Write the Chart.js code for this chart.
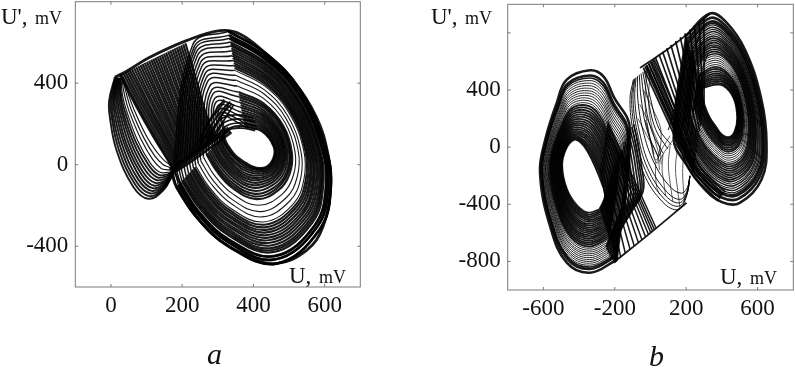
<!DOCTYPE html>
<html>
<head>
<meta charset="utf-8">
<script src="https://cdn.jsdelivr.net/npm/chart.js@4"></script>
<style>
html, body { margin: 0; padding: 0; background: #fff; overflow: hidden; }
canvas { position: absolute; top: 0; filter: blur(0.4px); }
#chartA { left: 0; }
#chartB { left: 400px; }
</style>
</head>
<body>
<canvas id="chartA" width="380" height="374"></canvas>
<canvas id="chartB" width="395" height="374"></canvas>
<script>
// values, each row is one orbit: x,y, x,y, ... in mV
const xTicksA = [0, 200, 400, 600];
const yTicksA = [-400, 0, 400];
const xTicksB = [-600, -200, 200, 600];
const yTicksB = [-800, -400, 0, 400, 800];

const ringA = [
  [320,164, 312,241, 374,189, 425,162, 457,89, 456,32, 436,-11, 406,-14, 378,10, 349,46, 327,99, 316,142],
  [315,157, 309,255, 372,209, 426,178, 460,100, 462,35, 443,-15, 413,-27, 381,-11, 349,28, 324,84, 310,132],
  [307,147, 305,273, 370,233, 426,197, 464,115, 470,38, 452,-20, 422,-43, 386,-36, 348,5, 319,66, 304,119],
  [300,138, 301,291, 367,257, 427,217, 468,129, 477,42, 462,-25, 431,-59, 390,-62, 347,-18, 315,48, 297,106],
  [292,128, 296,309, 365,281, 427,237, 472,144, 485,45, 471,-30, 441,-74, 395,-87, 346,-41, 310,29, 290,93],
  [285,119, 292,327, 363,305, 428,256, 475,158, 492,49, 480,-36, 450,-90, 399,-113, 345,-64, 306,11, 283,80],
  [275,107, 287,349, 360,333, 429,280, 480,176, 501,53, 492,-42, 461,-109, 404,-143, 343,-92, 300,-11, 275,65],
  [268,98, 283,367, 358,357, 429,300, 484,190, 508,57, 501,-47, 470,-125, 409,-169, 342,-115, 296,-29, 268,52],
  [259,86, 278,388, 355,386, 430,323, 488,208, 517,61, 512,-53, 481,-144, 414,-199, 341,-142, 290,-51, 260,36],
  [250,75, 272,410, 352,415, 430,347, 492,225, 526,65, 523,-59, 492,-162, 419,-230, 340,-170, 285,-73, 252,20],
  [242,65, 268,428, 350,439, 431,367, 496,240, 533,68, 533,-64, 502,-178, 424,-256, 339,-193, 280,-91, 245,8],
  [235,56, 264,446, 348,463, 432,386, 500,254, 541,72, 542,-69, 511,-194, 428,-281, 338,-216, 276,-110, 238,-5],
  [227,46, 260,464, 346,487, 432,406, 504,269, 548,76, 552,-74, 520,-210, 433,-307, 337,-239, 271,-128, 232,-18],
  [220,37, 255,482, 344,511, 433,426, 507,283, 556,79, 561,-79, 530,-226, 437,-332, 336,-262, 267,-146, 225,-31],
  [212,27, 251,500, 341,535, 433,446, 511,298, 563,83, 570,-85, 539,-241, 442,-358, 335,-285, 262,-165, 218,-44],
  [205,18, 247,518, 339,559, 434,465, 515,312, 570,86, 580,-90, 548,-257, 446,-383, 334,-308, 258,-183, 211,-57],
  [197,8, 243,536, 337,583, 434,485, 519,327, 578,90, 589,-95, 557,-273, 451,-409, 333,-331, 254,-201, 204,-70],
  [191,1, 239,550, 335,602, 435,501, 522,338, 584,92, 596,-99, 565,-285, 454,-429, 332,-349, 250,-216, 199,-81],
  [185,-7, 236,565, 333,621, 435,516, 525,350, 590,95, 604,-103, 572,-298, 458,-449, 331,-368, 246,-230, 194,-91],
  [181,-12, 233,576, 332,636, 436,528, 527,358, 594,97, 610,-106, 578,-307, 460,-465, 331,-382, 244,-241, 189,-99],
  [175,-20, 230,590, 330,655, 436,544, 530,370, 600,100, 617,-110, 585,-320, 464,-485, 330,-400, 240,-256, 184,-109]
];
const ringA2 = [
  [317,160, 310,248, 373,199, 425,170, 458,94, 459,33, 439,-13, 409,-20, 379,0, 349,37, 325,91, 313,137],
  [311,152, 307,264, 371,221, 426,187, 462,107, 466,36, 447,-17, 417,-35, 383,-23, 348,16, 321,75, 307,125],
  [303,142, 303,282, 368,245, 426,207, 466,122, 473,40, 457,-22, 426,-51, 388,-49, 347,-6, 317,57, 300,112],
  [296,133, 298,300, 366,269, 427,227, 470,136, 481,43, 466,-27, 436,-66, 392,-74, 346,-29, 312,38, 293,99],
  [288,123, 294,318, 364,293, 427,246, 473,151, 488,47, 475,-33, 445,-82, 397,-100, 345,-52, 308,20, 286,86],
  [280,113, 289,338, 361,319, 428,268, 477,167, 496,51, 486,-39, 455,-99, 401,-128, 344,-78, 303,0, 279,72],
  [271,102, 285,358, 359,345, 429,290, 482,183, 504,55, 496,-44, 465,-117, 406,-156, 342,-103, 298,-20, 271,58],
  [231,51, 262,455, 347,475, 432,396, 502,262, 545,74, 547,-72, 516,-202, 431,-294, 338,-228, 274,-119, 235,-12],
  [224,42, 258,473, 345,499, 433,416, 506,276, 552,78, 557,-77, 525,-218, 435,-320, 336,-251, 269,-137, 228,-25],
  [216,32, 253,491, 342,523, 433,436, 509,291, 560,81, 566,-82, 535,-234, 440,-345, 335,-274, 264,-156, 221,-38],
  [208,22, 249,509, 340,547, 434,456, 513,305, 567,85, 575,-88, 544,-249, 444,-370, 334,-297, 260,-174, 214,-50],
  [201,13, 245,527, 338,571, 434,475, 517,320, 574,88, 585,-92, 553,-265, 449,-396, 333,-320, 256,-192, 208,-63],
  [194,4, 241,543, 336,592, 435,493, 520,332, 581,91, 592,-97, 561,-279, 452,-419, 332,-340, 252,-208, 201,-75]
];
const capA = [
  [300,100, 325,170, 360,190, 410,175],
  [290,110, 320,185, 360,205, 410,190],
  [310,120, 330,170, 365,180, 405,168],
  [280,120, 312,200, 355,225, 405,210],
  [270,130, 305,220, 350,245, 400,230]
];
const sheetA = [
  [59,469, 103,312, 150,156, 197,2],
  [65,474, 109,316, 155,160, 201,7],
  [71,479, 114,320, 160,163, 205,12],
  [77,484, 120,324, 165,166, 209,17],
  [83,489, 125,328, 170,170, 213,22],
  [89,494, 131,331, 174,173, 217,26],
  [95,500, 136,335, 179,176, 220,31],
  [101,505, 142,339, 184,180, 224,36],
  [107,510, 147,342, 188,183, 228,40],
  [113,515, 153,346, 193,186, 232,45],
  [119,520, 158,350, 197,190, 236,50],
  [125,525, 164,354, 202,193, 240,55],
  [131,530, 169,357, 207,196, 244,60],
  [137,535, 175,361, 212,200, 248,65],
  [143,540, 180,365, 216,203, 252,70],
  [149,545, 186,369, 221,206, 256,74],
  [155,550, 191,372, 226,210, 259,79],
  [161,556, 197,376, 231,213, 263,84],
  [167,561, 202,380, 235,216, 267,88],
  [173,566, 208,384, 240,220, 271,93],
  [179,571, 213,387, 245,223, 275,98],
  [185,576, 219,391, 250,226, 279,103],
  [191,581, 224,395, 254,230, 283,108],
  [197,586, 230,399, 259,233, 287,113],
  [203,591, 235,402, 264,236, 291,117],
  [209,596, 241,406, 269,239, 295,122]
];
const fanA = [
  [215,30, 250,130, 280,220, 320,310],
  [240,60, 265,140, 295,230, 330,305],
  [265,95, 285,160, 310,240, 340,300],
  [290,130, 305,180, 325,240, 345,295],
  [250,90, 262,170, 290,255, 318,320],
  [275,115, 290,180, 315,255, 335,310]
];
const diagA = [
  [25,440, 70,290, 120,135, 175,-25, 240,-256],
  [29,443, 74,293, 124,138, 178,-22],
  [35,449, 80,297, 130,142, 182,-17],
  [41,454, 86,301, 136,146, 185,-12],
  [47,459, 92,305, 141,150, 189,-7],
  [53,464, 98,309, 146,153, 193,-3]
];
const lobeA = [
  [11,429, -5,315, -3,233, 16,70, 63,-109, 105,-167, 147,-126, 175,-44],
  [13,429, -1,317, 2,236, 22,75, 68,-97, 108,-154, 148,-117, 175,-43],
  [14,428, 3,319, 6,238, 28,80, 72,-85, 111,-141, 150,-108, 175,-41],
  [16,428, 7,320, 11,241, 34,85, 77,-73, 114,-128, 151,-100, 175,-40],
  [18,428, 10,322, 16,244, 40,90, 82,-62, 117,-115, 152,-91, 175,-39],
  [19,428, 14,324, 21,246, 45,95, 87,-50, 120,-102, 153,-82, 175,-37],
  [21,427, 18,326, 26,249, 51,100, 91,-38, 124,-89, 156,-73, 175,-36],
  [23,427, 22,328, 31,251, 57,105, 96,-26, 127,-75, 157,-64, 175,-35],
  [25,427, 26,331, 35,254, 63,110, 101,-14, 130,-62, 158,-55, 175,-33],
  [26,426, 29,333, 40,257, 69,115, 106,-2, 133,-49, 159,-47, 175,-32],
  [28,426, 33,335, 45,259, 75,119, 110,9, 136,-36, 160,-38, 175,-31],
  [30,426, 39,335, 51,263, 84,126, 117,26, 141,-18, 162,-25, 175,-29],
  [33,425, 45,338, 58,266, 92,133, 123,43, 146,1, 164,-13, 175,-27],
  [35,425, 50,340, 65,270, 100,140, 130,60, 150,20, 165,0, 175,-25]
];
const edgeA = [
  [11,429, 44,459, 109,527, 212,609, 306,658, 362,642, 436,544, 511,413, 577,233, 609,54, 617,-109, 595,-305, 549,-420, 464,-485, 390,-452, 306,-371, 240,-256, 184,-109, 170,-40],
  [175,-30, 215,20, 255,70, 295,125, 334,170],
  [165,-25, 210,30, 250,80, 290,135, 330,180],
  [180,-35, 220,10, 260,60, 300,110, 338,160]
];

const rightB = [
  [292,411, 349,435, 410,429, 467,340, 486,204, 471,108, 442,71, 403,85, 366,144, 329,214, 302,297, 290,361],
  [287,430, 349,461, 411,452, 470,358, 493,211, 480,104, 451,56, 408,61, 368,116, 328,188, 297,276, 282,345],
  [283,449, 348,487, 411,475, 473,376, 500,218, 489,100, 460,40, 413,36, 370,89, 326,162, 291,254, 274,330],
  [278,468, 347,513, 412,499, 477,393, 507,225, 498,96, 469,25, 418,12, 371,62, 325,136, 286,233, 265,314],
  [272,491, 346,544, 412,527, 481,414, 515,234, 509,91, 481,7, 424,-18, 373,29, 323,105, 280,207, 255,296],
  [267,514, 345,575, 413,555, 485,435, 523,242, 521,86, 492,-12, 430,-47, 376,-4, 321,74, 274,181, 246,277],
  [261,537, 344,605, 414,582, 488,456, 532,250, 532,81, 503,-30, 436,-76, 378,-36, 319,43, 267,155, 236,258],
  [255,560, 343,636, 414,610, 492,477, 540,259, 543,76, 514,-49, 442,-106, 380,-69, 317,12, 261,129, 226,240],
  [249,582, 342,667, 415,638, 496,498, 548,267, 554,72, 525,-67, 448,-135, 382,-102, 316,-20, 255,104, 216,221],
  [244,605, 341,698, 415,666, 500,519, 556,276, 565,67, 536,-85, 454,-165, 384,-134, 314,-51, 248,78, 206,203],
  [238,628, 340,729, 416,694, 504,540, 565,284, 576,62, 548,-104, 460,-194, 386,-167, 312,-82, 242,52, 196,184],
  [232,651, 339,760, 417,722, 508,561, 573,292, 587,57, 559,-122, 466,-223, 388,-200, 310,-113, 236,26, 186,165],
  [227,674, 338,791, 417,750, 512,582, 581,301, 598,52, 570,-140, 472,-253, 390,-232, 308,-144, 229,0, 176,147],
  [221,696, 337,822, 418,778, 516,603, 590,309, 609,48, 581,-159, 478,-282, 392,-265, 307,-176, 223,-25, 166,128],
  [215,719, 336,853, 418,806, 520,624, 598,318, 620,43, 592,-177, 484,-312, 394,-298, 305,-207, 217,-51, 156,110],
  [210,738, 335,878, 419,829, 523,642, 605,325, 630,39, 602,-192, 489,-336, 396,-325, 303,-233, 212,-73, 148,94],
  [206,757, 334,904, 419,852, 526,659, 612,332, 639,35, 611,-208, 494,-361, 398,-352, 302,-259, 206,-94, 140,79],
  [200,780, 333,935, 420,880, 530,680, 620,340, 650,30, 622,-226, 500,-390, 400,-385, 300,-290, 200,-120, 130,60]
];
const rightB2 = [
  [290,420, 349,448, 410,440, 468,349, 489,207, 475,106, 446,63, 405,73, 367,130, 328,201, 299,286, 286,353],
  [285,440, 348,474, 411,463, 472,367, 496,215, 484,102, 455,48, 410,48, 369,102, 327,175, 294,265, 278,337],
  [280,458, 348,500, 411,487, 475,384, 503,221, 493,98, 464,32, 415,24, 370,75, 325,149, 289,243, 270,322],
  [275,480, 346,528, 412,513, 479,403, 511,229, 503,93, 475,16, 421,-3, 372,45, 324,120, 283,220, 260,305],
  [269,502, 345,559, 412,541, 483,424, 519,238, 515,88, 486,-2, 427,-32, 374,12, 322,89, 277,194, 250,286],
  [264,525, 344,590, 414,568, 486,445, 527,246, 526,83, 497,-21, 433,-61, 377,-20, 320,58, 270,168, 241,267],
  [258,548, 343,620, 414,596, 490,466, 536,254, 537,78, 508,-40, 439,-91, 379,-52, 318,27, 264,142, 231,249],
  [252,571, 342,651, 415,624, 494,487, 544,263, 548,74, 519,-58, 445,-120, 381,-85, 316,-4, 258,116, 221,230],
  [246,593, 341,682, 415,652, 498,508, 552,271, 559,69, 530,-76, 451,-150, 383,-118, 315,-35, 251,91, 211,212],
  [241,616, 340,713, 416,680, 502,529, 560,280, 570,64, 542,-94, 457,-179, 385,-150, 313,-66, 245,65, 201,193],
  [235,639, 339,744, 416,708, 506,550, 569,288, 581,59, 553,-113, 463,-208, 387,-183, 311,-97, 239,39, 191,174],
  [229,662, 338,775, 417,736, 510,571, 577,296, 592,54, 564,-131, 469,-238, 389,-216, 309,-128, 232,13, 181,156],
  [224,685, 337,806, 417,764, 514,592, 585,305, 603,50, 575,-149, 475,-267, 391,-248, 307,-160, 226,-12, 171,137],
  [218,707, 336,837, 418,792, 518,613, 594,313, 614,45, 586,-168, 481,-297, 393,-281, 306,-191, 220,-38, 161,119],
  [212,728, 335,865, 418,817, 521,633, 601,321, 625,41, 597,-184, 486,-324, 395,-311, 304,-220, 214,-62, 152,102]
];
const leftB = [
  [-286,-435, -350,-458, -412,-407, -469,-291, -495,-132, -475,-17, -429,51, -388,29, -350,-36, -308,-143, -272,-255, -254,-341],
  [-280,-457, -349,-484, -416,-432, -475,-307, -503,-135, -482,-13, -435,67, -393,56, -349,0, -305,-103, -268,-216, -245,-312],
  [-274,-479, -348,-510, -419,-457, -481,-324, -511,-138, -489,-9, -441,83, -398,84, -348,36, -303,-63, -264,-178, -237,-283],
  [-268,-501, -348,-537, -423,-482, -487,-340, -518,-141, -496,-5, -447,99, -403,112, -348,72, -300,-23, -260,-140, -228,-254],
  [-262,-524, -347,-563, -427,-507, -492,-356, -526,-144, -504,0, -453,116, -409,140, -347,107, -297,16, -256,-102, -219,-224],
  [-256,-546, -346,-589, -430,-532, -498,-372, -534,-147, -511,4, -459,132, -414,167, -346,143, -294,56, -252,-63, -211,-195],
  [-250,-568, -346,-616, -434,-558, -504,-389, -542,-150, -518,8, -465,148, -419,195, -346,179, -292,96, -248,-25, -202,-166],
  [-244,-590, -345,-642, -437,-583, -510,-405, -549,-153, -525,12, -471,164, -424,223, -345,215, -289,136, -244,13, -193,-137],
  [-238,-612, -344,-668, -441,-608, -516,-421, -557,-155, -532,16, -477,180, -429,251, -344,251, -286,176, -240,51, -185,-108],
  [-232,-635, -344,-695, -444,-633, -522,-438, -565,-158, -540,21, -483,197, -434,279, -344,287, -283,216, -236,89, -176,-79],
  [-226,-657, -343,-721, -448,-658, -528,-454, -573,-161, -547,25, -489,213, -439,306, -343,323, -281,256, -232,128, -167,-50],
  [-220,-679, -342,-747, -451,-683, -534,-470, -580,-164, -554,29, -495,229, -444,334, -342,359, -278,296, -228,166, -159,-21],
  [-214,-701, -342,-774, -455,-708, -539,-487, -588,-167, -561,33, -501,245, -449,362, -342,394, -275,336, -224,204, -150,8],
  [-208,-723, -341,-800, -458,-734, -545,-503, -596,-170, -568,37, -507,261, -454,390, -341,430, -272,376, -220,242, -141,37],
  [-202,-746, -340,-826, -462,-759, -551,-519, -604,-173, -576,42, -513,278, -459,417, -340,466, -270,416, -216,281, -132,66],
  [-196,-768, -340,-853, -465,-784, -557,-536, -611,-176, -583,46, -519,294, -464,445, -340,502, -267,456, -212,319, -124,95],
  [-190,-790, -339,-879, -469,-809, -563,-552, -619,-179, -590,50, -525,310, -469,473, -339,538, -264,496, -208,357, -115,124]
];
const leftB2 = [
  [-283,-446, -350,-471, -414,-420, -472,-299, -499,-133, -478,-15, -432,59, -390,42, -350,-18, -306,-123, -270,-235, -250,-326],
  [-277,-468, -349,-497, -418,-444, -478,-315, -507,-136, -486,-11, -438,75, -396,70, -349,18, -304,-83, -266,-197, -241,-297],
  [-271,-490, -348,-523, -421,-470, -484,-332, -515,-139, -493,-7, -444,91, -400,98, -348,54, -301,-43, -262,-159, -232,-268],
  [-265,-512, -347,-550, -425,-495, -490,-348, -522,-142, -500,-2, -450,108, -406,126, -347,90, -298,-3, -258,-121, -224,-239],
  [-259,-535, -347,-576, -428,-520, -495,-364, -530,-145, -507,2, -456,124, -411,154, -347,125, -296,36, -254,-82, -215,-210],
  [-253,-557, -346,-602, -432,-545, -501,-380, -538,-148, -514,6, -462,140, -416,181, -346,161, -293,76, -250,-44, -206,-180],
  [-247,-579, -345,-629, -435,-570, -507,-397, -545,-151, -521,10, -468,156, -421,209, -345,197, -290,116, -246,-6, -198,-152],
  [-241,-601, -345,-655, -439,-595, -513,-413, -553,-154, -529,14, -474,172, -426,237, -345,233, -287,156, -242,32, -189,-123],
  [-235,-624, -344,-681, -443,-620, -519,-430, -561,-157, -536,18, -480,188, -431,265, -344,269, -285,196, -238,70, -180,-94],
  [-229,-646, -343,-708, -446,-646, -525,-446, -569,-160, -543,23, -486,205, -436,292, -343,305, -282,236, -234,108, -172,-65],
  [-223,-668, -343,-734, -450,-671, -531,-462, -576,-163, -550,27, -492,221, -441,320, -343,341, -279,276, -230,147, -163,-36],
  [-217,-690, -342,-760, -453,-696, -537,-479, -584,-166, -558,31, -498,237, -446,348, -342,377, -276,316, -226,185, -154,-7],
  [-211,-712, -341,-787, -457,-721, -542,-495, -592,-169, -565,35, -504,253, -451,376, -341,412, -274,356, -222,223, -145,22],
  [-205,-735, -341,-813, -460,-746, -548,-511, -600,-172, -572,40, -510,270, -456,404, -341,448, -271,396, -218,262, -137,52],
  [-199,-757, -340,-839, -463,-771, -554,-527, -607,-175, -579,44, -516,286, -461,431, -340,484, -269,436, -214,300, -128,81]
];
const midB = [
  [-96,473, -115,333, -96,100, -40,-179, 72,-389, 156,-436, 202,-343, 221,-203],
  [-91,478, -106,333, -85,102, -28,-164, 79,-365, 159,-413, 203,-331, 221,-202],
  [-87,482, -98,334, -74,104, -16,-149, 86,-342, 162,-390, 204,-319, 221,-201],
  [-81,488, -88,335, -62,107, -3,-133, 94,-316, 166,-365, 205,-306, 221,-200],
  [-73,497, -71,335, -41,111, 19,-106, 106,-272, 171,-322, 206,-283, 221,-199],
  [-63,507, -52,337, -18,115, 45,-74],
  [-53,516, -34,338, 5,120, 70,-43],
  [-43,527, -15,339, 29,124, 96,-11],
  [-35,535, 0,340, 48,128, 116,16]
];
const hatchB = [
  [-20,550, -30,300, -10,100, 20,-50],
  [0,560, -10,300, 15,100, 50,-60],
  [-40,400, 20,250, 60,100, 40,-100],
  [-60,300, 0,150, 50,0, 60,-120],
  [-70,200, -20,80, 40,-60, 50,-160],
  [30,-100, 28,-180, 35,-280, 50,-330],
  [70,-50, 65,-150, 75,-250, 85,-340],
  [110,10, 100,-120, 110,-250, 125,-380],
  [150,-20, 140,-150, 150,-280, 165,-420],
  [185,-60, 180,-180, 185,-300, 190,-380],
  [128,54, 80,-30, 35,-110, 5,30, -21,170],
  [110,80, 70,0, 30,-90, 0,40, -30,190]
];
const topB = [
  [-31,566, 59,318, 150,70, 240,-179],
  [-21,576, 67,330, 154,82, 242,-165],
  [-11,586, 74,340, 159,95, 244,-150],
  [-1,597, 81,352, 163,106, 245,-136],
  [12,610, 91,368, 169,125, 248,-117],
  [28,627, 102,387, 177,147, 251,-93],
  [48,648, 117,411, 185,173, 254,-64],
  [68,668, 131,434, 195,199, 258,-35],
  [91,692, 148,461, 205,231, 262,-1],
  [114,716, 165,489, 215,260, 266,33],
  [141,743, 184,519, 228,295, 271,71],
  [167,770, 203,550, 240,330, 276,110],
  [193,797, 222,580, 252,364, 281,147],
  [220,824, 241,611, 264,398, 286,186],
  [246,852, 261,642, 276,432, 290,224],
  [273,879, 280,673, 288,468, 295,263],
  [299,906, 300,704, 300,502, 300,301]
];
const diagB = [
  [-40,556, 50,310, 140,65, 230,-185, 300,-280, 380,-375],
  [-25,570, 65,322, 155,75, 240,-170, 310,-265, 390,-360],
  [-10,585, 78,335, 165,88, 250,-155, 320,-250, 400,-345],
  [5,600, 92,350, 175,100, 260,-140, 330,-235, 410,-330],
  [20,615, 105,365, 188,115, 270,-125, 340,-220, 420,-315]
];
const botB = [
  [31,-566, -59,-318, -150,-70, -240,179],
  [21,-576, -67,-330, -154,-82, -242,165],
  [11,-586, -74,-340, -159,-95, -244,150],
  [1,-597, -81,-352, -163,-106, -245,136],
  [-12,-610, -91,-368, -169,-125, -248,117],
  [-28,-627, -102,-387, -177,-147, -251,93],
  [-48,-648, -117,-411, -185,-173, -254,64],
  [-68,-668, -131,-434, -195,-199, -258,35],
  [-91,-692, -148,-461, -205,-231, -262,1],
  [-114,-716, -165,-489, -215,-260, -266,-33],
  [-141,-743, -184,-519, -228,-295, -271,-71],
  [-167,-770, -203,-550, -240,-330, -276,-110],
  [-193,-797, -222,-580, -252,-364, -281,-147]
];
const crossB = [
  [128,54, 170,300, 215,560, 280,800],
  [100,120, 150,350, 205,590, 300,850],
  [160,20, 195,260, 235,520, 290,740],
  [190,-30, 220,220, 250,470, 310,700],
  [220,-90, 235,170, 260,420, 320,650]
];
const bandB = [
  [-115,124, -90,0, -70,-150, -60,-320, -120,-450, -190,-620, -205,-800],
  [-124,95, -100,-20, -82,-160, -72,-330, -130,-455, -198,-625, -212,-790],
  [-132,66, -112,-40, -95,-175, -85,-340, -140,-460, -206,-630, -220,-780],
  [-141,37, -124,-60, -108,-190, -98,-350, -150,-465, -215,-640, -228,-760],
  [-150,8, -136,-80, -122,-205, -112,-360, -160,-475, -224,-650, -236,-740],
  [-159,-21, -148,-100, -135,-220, -125,-370, -172,-485, -232,-660, -244,-720],
  [-167,-50, -160,-120, -148,-240, -140,-385, -185,-500, -240,-670, -250,-700],
  [-105,140, -80,10, -60,-145, -50,-310, -110,-445, -182,-615, -198,-808],
  [-95,160, -70,30, -50,-135, -40,-300, -100,-440, -175,-610, -190,-800]
];
const edgeB = [
  [-59,555, 140,725, 333,935],
  [-208,-809, 0,-600, 202,-389]
];

const toPoints = (row, closed) => {
  const pts = [];
  for (let i = 0; i < row.length; i += 2) pts.push({ x: row[i], y: row[i + 1] });
  if (closed) pts.push(pts[0]);
  return pts;
};
const group = (rows, width, closed) => rows.map(row => ({
  data: toPoints(row, closed),
  showLine: true,
  borderColor: 'rgba(0,0,0,0.9)',
  borderWidth: width,
  tension: 0.4,
  pointRadius: 0
}));
// the rising part of a ring row is finer than the rest of it
const bodies = rows => rows.map(row => row.slice(4));
const rises = rows => rows.map(row => row.slice(-2).concat(row.slice(0, 6)));

const frameAndText = texts => ({
  id: 'frameAndText',
  afterDraw(chart) {
    const ctx = chart.ctx;
    const { left, right, top, bottom } = chart.chartArea;
    const sx = chart.scales.x, sy = chart.scales.y;
    ctx.save();
    ctx.strokeStyle = '#7a7a7a';
    ctx.lineWidth = 1;
    ctx.strokeRect(left, top, right - left, bottom - top);
    ctx.beginPath();
    sx.ticks.forEach(t => {
      const p = sx.getPixelForValue(t.value);
      ctx.moveTo(p, top); ctx.lineTo(p, top + 3);
      ctx.moveTo(p, bottom); ctx.lineTo(p, bottom - 3);
    });
    sy.ticks.forEach(t => {
      const p = sy.getPixelForValue(t.value);
      ctx.moveTo(left, p); ctx.lineTo(left + 3, p);
      ctx.moveTo(right, p); ctx.lineTo(right - 3, p);
    });
    ctx.stroke();
    ctx.fillStyle = '#111';
    ctx.textBaseline = 'alphabetic';
    texts.forEach(t => {
      ctx.font = t.font;
      ctx.fillText(t.text, t.x, t.y);
    });
    ctx.restore();
  }
});

const makeChart = (id, datasets, range, xTicks, yTicks, area, texts, hideY) => new Chart(document.getElementById(id), {
  type: 'scatter',
  data: { datasets },
  options: {
    responsive: false,
    animation: false,
    layout: { padding: { top: area.top, right: area.right, left: 0, bottom: 0 } },
    plugins: { legend: { display: false }, tooltip: { enabled: false } },
    scales: {
      x: {
        min: range.x[0], max: range.x[1],
        grid: { display: false, drawTicks: false }, border: { display: false },
        afterBuildTicks: s => { s.ticks = xTicks.map(v => ({ value: v })); },
        afterFit: s => { s.height = area.bottom; s.paddingLeft = 0; s.paddingRight = 0; },
        ticks: { color: '#111', padding: 5, maxRotation: 0, autoSkip: false, font: { family: 'Liberation Serif', size: 23 } }
      },
      y: {
        min: range.y[0], max: range.y[1],
        grid: { display: false, drawTicks: false }, border: { display: false },
        afterBuildTicks: s => { s.ticks = yTicks.map(v => ({ value: v })); },
        afterFit: s => { s.width = area.left; s.paddingTop = 0; s.paddingBottom = 0; },
        ticks: {
          color: '#111', padding: 7, autoSkip: false,
          font: { family: 'Liberation Serif', size: 23 },
          callback: v => (hideY.includes(v) ? '' : String(v))
        }
      }
    }
  },
  plugins: [frameAndText(texts)]
});

const serif = 'px "Liberation Serif"';

makeChart('chartA',
  [].concat(
    group(lobeA.slice(0, 10), 1.9), group(lobeA.slice(10), 1.2),
    group(sheetA, 2.2), group(fanA, 1.8), group(capA, 1.8),
    group(rises(ringA), 1.5),
    group(bodies(ringA.slice(0, 8)), 2.2), group(bodies(ringA.slice(8, 12)), 1.1), group(bodies(ringA.slice(12)), 2.2),
    group(bodies(ringA2), 2), group(bodies(ringA.slice(-3)), 2.8),
    group(diagA, 2.4), group(edgeA, 2.8)),
  { x: [-100, 700], y: [-600, 800] }, xTicksA, yTicksA,
  { left: 75.3, right: 19.7, top: 1.7, bottom: 87 },
  [
    { text: "U', ", font: '23' + serif, x: 1, y: 24 },
    { text: 'mV', font: '18' + serif, x: 35, y: 24 },
    { text: 'U, ', font: '23' + serif, x: 289, y: 283 },
    { text: 'mV', font: '18' + serif, x: 319, y: 283 },
    { text: 'a', font: 'italic 30' + serif, x: 207, y: 364 }
  ], []);

makeChart('chartB',
  [].concat(
    group(midB, 1), group(hatchB, 0.7), group(crossB, 1), group(topB, 1.7), group(botB, 1.5),
    group(leftB.slice(0, 10), 1.9, true), group(leftB.slice(10, 15), 1, true),
    group(leftB2.slice(0, 9), 1.7, true), group(leftB2.slice(9, 14), 0.9, true), group(leftB2.slice(14), 1.7, true),
    group(rightB.slice(0, 5), 1.9, true), group(rightB.slice(5, 8), 1, true), group(rightB.slice(8, 12), 1.9, true), group(rightB.slice(12, 15), 1.1, true),
    group(rightB2.slice(0, 5), 1.7, true), group(rightB2.slice(5, 7), 0.9, true), group(rightB2.slice(7), 1.5, true),
    group(leftB.slice(-2), 2.6, true), group(rightB.slice(-3), 2.6, true),
    group(bandB, 1.7), group(diagB, 1.8), group(edgeB, 1.8)),
  { x: [-800, 800], y: [-1000, 1000] }, xTicksB, yTicksB,
  { left: 107.7, right: 1.7, top: 4.3, bottom: 84 },
  [
    { text: "U', ", font: '23' + serif, x: 31, y: 24 },
    { text: 'mV', font: '18' + serif, x: 65, y: 24 },
    { text: 'U, ', font: '23' + serif, x: 320, y: 284 },
    { text: 'mV', font: '18' + serif, x: 350, y: 284 },
    { text: 'b', font: 'italic 30' + serif, x: 249, y: 366 }
  ], [800]);
</script>
</body>
</html>
